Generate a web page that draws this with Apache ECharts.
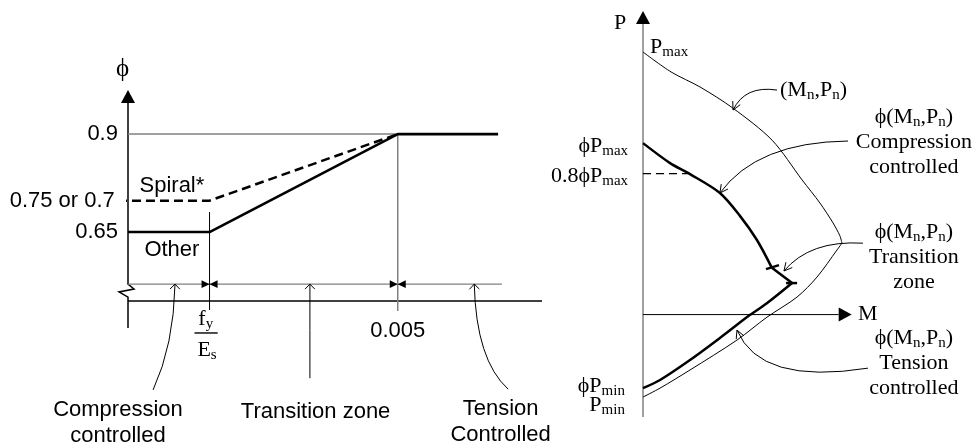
<!DOCTYPE html>
<html>
<head>
<meta charset="utf-8">
<script src="https://cdn.jsdelivr.net/npm/echarts@6/dist/echarts.min.js"></script>
<style>
html,body{margin:0;padding:0;background:#fff;}
#chart{width:974px;height:446px;}
</style>
</head>
<body>
<div id="chart"></div>
<script>
// ================= LEFT PANEL DATA: phi vs. net tensile strain =================
const otherStrain  = [0.0007, 0.002, 0.005, 0.0066];
const otherPhi     = [0.65, 0.65, 0.9, 0.9];
const spiralStrain = [0.00054, 0.002, 0.005];
const spiralPhi    = [0.73, 0.73, 0.9];
const limitStrain  = [0.0007, 0.005];
const limitPhi     = [0.9, 0.9];
const phiTickValues = [0.9, 0.73, 0.65];
const phiTickLabels = ['0.9', '0.75 or 0.7', '0.65'];
const strainMarks   = [0.002, 0.005];          // fy/Es and 0.005
const zoneNames     = ['Compression\ncontrolled', 'Transition zone', 'Tension\nControlled'];
const curveNames    = ['Spiral*', 'Other'];

// ================= RIGHT PANEL DATA: P-M interaction =================
const nominalUpperM = [0, 0.107, 0.217, 0.343, 0.492, 0.606, 0.674, 0.724, 0.750, 0.758];
const nominalUpperP = [1.0, 0.924, 0.867, 0.786, 0.664, 0.513, 0.425, 0.349, 0.300, 0.272];
const nominalLowerM = [0.758, 0.739, 0.663, 0.587, 0.472, 0.358, 0.179, 0.065, 0];
const nominalLowerP = [0.272, 0.246, 0.143, 0.067, -0.010, -0.097, -0.211, -0.280, -0.314];
const designUpperM  = [0, 0.103, 0.179, 0.293, 0.370, 0.434, 0.491];
const designUpperP  = [0.653, 0.577, 0.535, 0.463, 0.375, 0.284, 0.178];
const designKneeM   = [0.491, 0.568];
const designKneeP   = [0.178, 0.120];
const designLowerM  = [0.568, 0.472, 0.408, 0.293, 0.179, 0.065, 0];
const designLowerP  = [0.120, 0.043, -0.001, -0.089, -0.173, -0.249, -0.280];
const capM = [0, 0.179];
const capP = [0.537, 0.537];

// ================= helpers =================
const SANS  = "'Liberation Sans', Arial, Helvetica, sans-serif";
const SERIF = "'Liberation Serif', 'Times New Roman', 'DejaVu Serif', serif";
const PHI = '\u03D5';
const zip = (xs, ys) => xs.map((x, i) => [x, ys[i]]);

const STROKES = {
  axis:     { stroke: '#000', lineWidth: 1.5 },
  axisGray: { stroke: '#808080', lineWidth: 1.5 },
  thin:     { stroke: '#000', lineWidth: 1 },
  gray:     { stroke: '#808080', lineWidth: 1.2 },
  bar:      { stroke: '#000', lineWidth: 1.4 },
  thick:    { stroke: '#000', lineWidth: 2.5 }
};
const TRIS = { big: { len: 13, half: 7 }, small: { len: 8, half: 3.8 } };
const HEADS = { wide: { len: 7, ang: 0.78 }, narrow: { len: 9, ang: 0.48 } };
const DIRS = { up: [0, -1], down: [0, 1], left: [-1, 0], right: [1, 0] };

const RICH = {
  n: { fontFamily: SERIF, fontSize: 22, lineHeight: 25, fill: '#000' },
  s: { fontFamily: SERIF, fontSize: 15, lineHeight: 16, verticalAlign: 'bottom', fill: '#000' }
};
const FONTS = {
  sans:  { fontFamily: SANS, fontSize: 22, lineHeight: 26 },
  serif: { fontFamily: SERIF, fontSize: 22, lineHeight: 25 },
  phi:   { fontFamily: SERIF, fontSize: 25, lineHeight: 26 }
};

// ================= annotation geometry (data units) =================
const leftAnn = {
  lines: [
    { pts: [[0.0007, 0.98], [0.0007, 0.517], [0.000796, 0.5046], [0.000557, 0.4971], [0.0007, 0.4839], [0.0007, 0.405]], st: 'axis' },
    { pts: [[0.0007, 0.474], [0.0073, 0.474]], st: 'axis' },
    { pts: [[0.0007, 0.517], [0.00666, 0.517]], st: 'gray' },
    { pts: [[strainMarks[0], 0.701], [strainMarks[0], 0.451]], st: 'thin' },
    { pts: [[strainMarks[1], 0.9], [strainMarks[1], 0.4485]], st: 'axisGray' },
    { pts: [[0.00176, 0.3924], [0.00213, 0.3924]], st: 'bar' }
  ],
  tris: [
    { tip: [0.0007, 1.0125], dir: 'up', size: 'big' },
    { tip: [strainMarks[0], 0.517], dir: 'right', size: 'small' },
    { tip: [strainMarks[0], 0.517], dir: 'left', size: 'small' },
    { tip: [strainMarks[1], 0.517], dir: 'right', size: 'small' },
    { tip: [strainMarks[1], 0.517], dir: 'left', size: 'small' }
  ],
  leaders: [
    { from: [0.00110, 0.247], ctrl: [0.00143, 0.362], to: [0.00145, 0.517], head: 'wide' },
    { from: [0.00360, 0.277], ctrl: [0.00360, 0.400], to: [0.00360, 0.517], head: 'wide' },
    { from: [0.00676, 0.249], ctrl: [0.00625, 0.323], to: [0.00622, 0.517], head: 'wide' }
  ],
  texts: [
    { t: PHI, at: [0.000612, 1.066], f: 'phi' },
    { t: phiTickLabels[0], at: [0.00054, phiTickValues[0]], align: 'right', f: 'sans' },
    { t: phiTickLabels[1], at: [0.00049, phiTickValues[1]], align: 'right', f: 'sans' },
    { t: phiTickLabels[2], at: [0.00054, phiTickValues[2]], align: 'right', f: 'sans' },
    { t: curveNames[0], at: [0.0014, 0.7675], f: 'sans' },
    { t: curveNames[1], at: [0.0014, 0.604], f: 'sans' },
    { t: '{n|f}{s|y}', at: [0.00194, 0.428], f: 'serif' },
    { t: '{n|E}{s|s}', at: [0.00196, 0.349], f: 'serif' },
    { t: '0.005', at: [strainMarks[1], 0.3975], f: 'sans' },
    { t: zoneNames[0], at: [0.00054, 0.1627], f: 'sans' },
    { t: zoneNames[1], at: [0.00369, 0.191], f: 'sans' },
    { t: zoneNames[2], at: [0.00664, 0.165], f: 'sans' }
  ]
};

const MN = '{n|(M}{s|n}{n|,P}{s|n}{n|)}';
const rightAnn = {
  lines: [
    { pts: [[0, -0.39], [0, 1.11]], st: 'axisGray' },
    { pts: [[0, 0], [0.745, 0]], st: 'thin' },
    { pts: [[0.4686, 0.1733], [0.518, 0.1886]], st: 'thick' },
    { pts: [[0.545, 0.120], [0.587, 0.120]], st: 'thick' }
  ],
  tris: [
    { tip: [0, 1.156], dir: 'up', size: 'big' },
    { tip: [0.795, 0], dir: 'right', size: 'big' }
  ],
  leaders: [
    { from: [0.5105, 0.855], ctrl: [0.389, 0.874], to: [0.343, 0.779], head: 'narrow' },
    { from: [0.781, 0.661], ctrl: [0.434, 0.657], to: [0.293, 0.463], head: 'narrow' },
    { from: [0.838, 0.272], ctrl: [0.636, 0.284], to: [0.537, 0.166], head: 'narrow' },
    { from: [0.857, -0.204], ctrl: [0.446, -0.269], to: [0.358, -0.059], head: 'narrow' }
  ],
  texts: [
    { t: '{n|P}', at: [-0.0876, 1.1105], f: 'serif' },
    { t: '{n|P}{s|max}', at: [0.027, 1.019], align: 'left', f: 'serif' },
    { t: '{n|' + PHI + 'P}{s|max}', at: [-0.057, 0.640], align: 'right', f: 'serif' },
    { t: '{n|0.8' + PHI + 'P}{s|max}', at: [-0.057, 0.527], align: 'right', f: 'serif' },
    { t: '{n|' + PHI + 'P}{s|min}', at: [-0.069, -0.272], align: 'right', f: 'serif' },
    { t: '{n|P}{s|min}', at: [-0.069, -0.345], align: 'right', f: 'serif' },
    { t: MN, at: [0.522, 0.855], align: 'left', f: 'serif' },
    { t: '{n|M}', at: [0.819, 0.0], align: 'left', f: 'serif' },
    { t: '{n|' + PHI + '(M}{s|n}{n|,P}{s|n}{n|)}\n{n|Compression}\n{n|controlled}', at: [1.032, 0.657], f: 'serif' },
    { t: '{n|' + PHI + '(M}{s|n}{n|,P}{s|n}{n|)}\n{n|Transition}\n{n|zone}', at: [1.032, 0.219], f: 'serif' },
    { t: '{n|' + PHI + '(M}{s|n}{n|,P}{s|n}{n|)}\n{n|Tension}\n{n|controlled}', at: [1.032, -0.184], f: 'serif' }
  ]
};

function buildChildren(ann, api) {
  const c = p => api.coord(p);
  const out = [];
  ann.lines.forEach(l => {
    out.push({ type: 'polyline', shape: { points: l.pts.map(c) },
      style: Object.assign({ fill: null, lineJoin: 'miter' }, STROKES[l.st]) });
  });
  ann.tris.forEach(tr => {
    const tip = c(tr.tip), d = DIRS[tr.dir], s = TRIS[tr.size];
    const bx = tip[0] - d[0] * s.len, by = tip[1] - d[1] * s.len;
    out.push({ type: 'polygon', shape: { points: [tip, [bx - d[1] * s.half, by + d[0] * s.half], [bx + d[1] * s.half, by - d[0] * s.half]] },
      style: { fill: '#000' } });
  });
  ann.leaders.forEach(l => {
    const a = c(l.from), q = c(l.ctrl), b = c(l.to), h = HEADS[l.head];
    out.push({ type: 'bezierCurve', shape: { x1: a[0], y1: a[1], cpx1: q[0], cpy1: q[1], x2: b[0], y2: b[1] },
      style: { stroke: '#000', lineWidth: 1, fill: null } });
    const ang = Math.atan2(b[1] - q[1], b[0] - q[0]);
    const p1 = [b[0] - h.len * Math.cos(ang - h.ang), b[1] - h.len * Math.sin(ang - h.ang)];
    const p2 = [b[0] - h.len * Math.cos(ang + h.ang), b[1] - h.len * Math.sin(ang + h.ang)];
    out.push({ type: 'polyline', shape: { points: [p1, b, p2] }, style: { stroke: '#000', lineWidth: 1, fill: null } });
  });
  ann.texts.forEach(tx => {
    const p = c(tx.at);
    out.push({ type: 'text', x: p[0], y: p[1], z2: 10,
      style: Object.assign({ text: tx.t, fill: '#000', align: tx.align || 'center', verticalAlign: 'middle', rich: RICH }, FONTS[tx.f]) });
  });
  return out;
}

function annotationSeries(ann, idx, anchor) {
  return {
    type: 'custom', xAxisIndex: idx, yAxisIndex: idx, silent: true, clip: false, z: 3,
    data: [anchor],
    renderItem: (params, api) => ({ type: 'group', children: buildChildren(ann, api) })
  };
}

function lineSeries(name, xs, ys, idx, style, smooth) {
  return {
    name: name, type: 'line', xAxisIndex: idx, yAxisIndex: idx, data: zip(xs, ys),
    symbol: 'none', smooth: smooth || false, clip: false, silent: true, z: 4,
    lineStyle: style
  };
}

const chart = echarts.init(document.getElementById('chart'), null, { renderer: 'canvas' });
chart.setOption({
  animation: false,
  backgroundColor: '#ffffff',
  grid: [
    { left: 128, top: 90, width: 414, height: 240 },
    { left: 643, top: 10, width: 210, height: 407 }
  ],
  xAxis: [
    { type: 'value', gridIndex: 0, min: 0.0007, max: 0.0073, show: false },
    { type: 'value', gridIndex: 1, min: 0, max: 0.8, show: false }
  ],
  yAxis: [
    { type: 'value', gridIndex: 0, min: 0.4, max: 1.0125, show: false },
    { type: 'value', gridIndex: 1, min: -0.39, max: 1.16, show: false }
  ],
  series: [
    lineSeries('Limit 0.9', limitStrain, limitPhi, 0, { color: '#808080', width: 1.5 }),
    lineSeries('Spiral', spiralStrain, spiralPhi, 0, { color: '#000', width: 2.5, type: [9, 5] }),
    lineSeries('Other', otherStrain, otherPhi, 0, { color: '#000', width: 2.6 }),
    annotationSeries(leftAnn, 0, [0.003, 0.7]),
    lineSeries('Nominal upper', nominalUpperM, nominalUpperP, 1, { color: '#000', width: 1 }, 0.3),
    lineSeries('Nominal lower', nominalLowerM, nominalLowerP, 1, { color: '#000', width: 1 }, 0.3),
    lineSeries('Design upper', designUpperM, designUpperP, 1, { color: '#000', width: 2.5 }, 0.3),
    lineSeries('Design knee', designKneeM, designKneeP, 1, { color: '#000', width: 2.5 }),
    lineSeries('Design lower', designLowerM, designLowerP, 1, { color: '#000', width: 2.5 }, 0.3),
    lineSeries('0.8 phi Pmax', capM, capP, 1, { color: '#000', width: 1.3, type: [8, 5] }),
    annotationSeries(rightAnn, 1, [0.3, 0.3])
  ]
});
</script>
</body>
</html>
